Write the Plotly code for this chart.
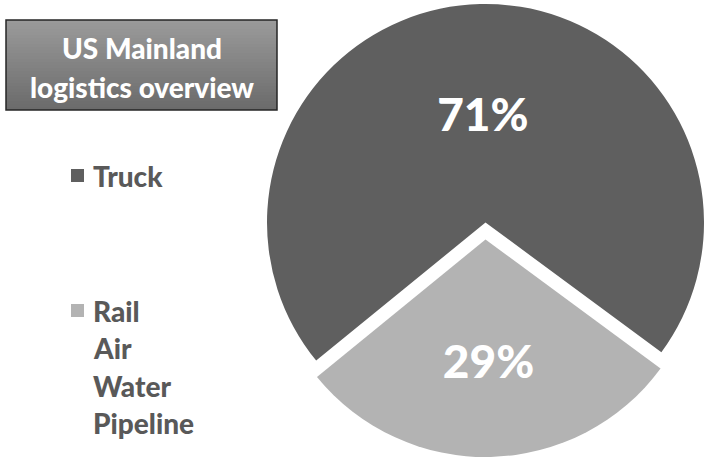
import plotly.graph_objects as go

# ---- data ----
categories = ["Truck", "Rail / Air / Water / Pipeline"]
values = [71, 29]
legend_lines = [["Truck"], ["Rail", "Air", "Water", "Pipeline"]]
title_lines = ["US Mainland", "logistics overview"]

colors = ["#5f5f5f", "#b3b3b3"]
TRANSP = "rgba(0,0,0,0)"
W, H = 704, 457
FONT = "Lato"
WEIGHT = 900
TEXT_GRAY = "#595959"


def px(x):
    return x / W


def py(y):
    return 1 - y / H


fig = go.Figure()

# dark slice (Truck) in its own domain, light slice exploded downward in its own domain
dom_dark = dict(x=[px(267), px(704)], y=[py(441), py(4)])
dom_light = dict(x=[px(268), px(703)], y=[py(457), py(22)])

common = dict(
    labels=categories,
    values=values,
    sort=False,
    direction="clockwise",
    rotation=230.8,
    textinfo="percent",
    textposition="inside",
    insidetextorientation="horizontal",
    textfont=dict(family=FONT, size=46, color="white", weight=WEIGHT),
    showlegend=False,
    hoverinfo="label+percent",
)

fig.add_trace(go.Pie(
    domain=dom_dark,
    marker=dict(colors=[colors[0], TRANSP]),
    texttemplate=["%{percent:.0%}", ""],
    **common,
))
fig.add_trace(go.Pie(
    domain=dom_light,
    marker=dict(colors=[TRANSP, colors[1]]),
    texttemplate=["", "%{percent:.0%}"],
    **common,
))

shapes = []
annotations = []

# title box with vertical gradient
x0, x1, y0, y1 = 6, 277, 20, 110
n = 30
c_top, c_bot = 0x9a, 0x6b
for i in range(n):
    t = i / (n - 1)
    c = round(c_top + (c_bot - c_top) * t)
    col = f"rgb({c},{c},{c})"
    ya = y0 + (y1 - y0) * i / n
    yb = y0 + (y1 - y0) * (i + 1) / n + 0.6
    shapes.append(dict(type="rect", xref="paper", yref="paper",
                       x0=px(x0), x1=px(x1), y0=py(ya), y1=py(min(yb, y1)),
                       fillcolor=col, line=dict(width=0)))
shapes.append(dict(type="rect", xref="paper", yref="paper",
                   x0=px(x0), x1=px(x1), y0=py(y1), y1=py(y0),
                   fillcolor=TRANSP, line=dict(color="#262626", width=1.5)))

for line, ymid in zip(title_lines, [48.5, 86.5]):
    annotations.append(dict(text=line, xref="paper", yref="paper",
                            x=px((x0 + x1) / 2 + 0.5), y=py(ymid), xanchor="center", yanchor="middle",
                            showarrow=False,
                            font=dict(family=FONT, size=28, color="white", weight=WEIGHT)))

# legend
legend_mid = [[175.5], [310.5, 347.5, 385.5, 422.5]]
for gi, (lines, mids) in enumerate(zip(legend_lines, legend_mid)):
    ym = mids[0]
    shapes.append(dict(type="rect", xref="paper", yref="paper",
                       x0=px(71), x1=px(84), y0=py(ym + 6.5), y1=py(ym - 6.5),
                       fillcolor=colors[gi], line=dict(width=0)))
    for line, ymid in zip(lines, mids):
        annotations.append(dict(text=line, xref="paper", yref="paper",
                                x=px(91), y=py(ymid), xanchor="left", yanchor="middle",
                                showarrow=False,
                                font=dict(family=FONT, size=28, color=TEXT_GRAY, weight=WEIGHT)))

fig.update_layout(
    width=W, height=H,
    margin=dict(l=0, r=0, t=0, b=0),
    paper_bgcolor="white",
    plot_bgcolor="white",
    shapes=shapes,
    annotations=annotations,
)

fig.write_html("out.html")
